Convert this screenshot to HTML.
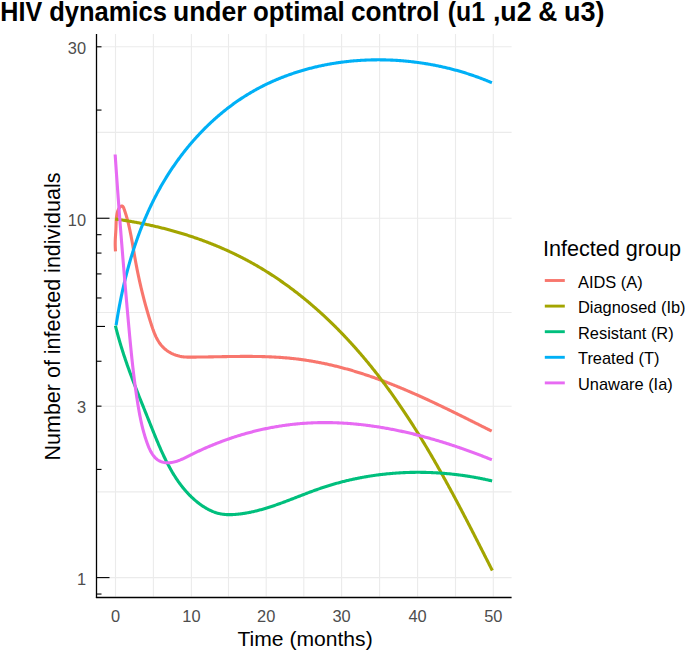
<!DOCTYPE html>
<html><head><meta charset="utf-8"><style>
html,body{margin:0;padding:0;background:#fff;}
svg{display:block;}
text{font-family:"Liberation Sans",sans-serif;}
.g{stroke:#EBEBEB;stroke-width:1.1;}
.t{stroke:#000;stroke-width:1.1;}
.c{fill:none;stroke-width:3.1;stroke-linejoin:round;}
.ax{font-size:16.4px;fill:#4D4D4D;}
.lt{font-size:16.4px;fill:#000;}
</style></head><body>
<svg width="685" height="652" viewBox="0 0 685 652">
<rect width="685" height="652" fill="#fff"/>
<line x1="115.50" y1="34.00" x2="115.50" y2="596.50" class="g"/>
<line x1="153.40" y1="34.00" x2="153.40" y2="596.50" class="g"/>
<line x1="191.40" y1="34.00" x2="191.40" y2="596.50" class="g"/>
<line x1="228.50" y1="34.00" x2="228.50" y2="596.50" class="g"/>
<line x1="266.20" y1="34.00" x2="266.20" y2="596.50" class="g"/>
<line x1="303.80" y1="34.00" x2="303.80" y2="596.50" class="g"/>
<line x1="341.60" y1="34.00" x2="341.60" y2="596.50" class="g"/>
<line x1="379.60" y1="34.00" x2="379.60" y2="596.50" class="g"/>
<line x1="417.60" y1="34.00" x2="417.60" y2="596.50" class="g"/>
<line x1="455.50" y1="34.00" x2="455.50" y2="596.50" class="g"/>
<line x1="493.30" y1="34.00" x2="493.30" y2="596.50" class="g"/>
<line x1="96.50" y1="46.80" x2="511.60" y2="46.80" class="g"/>
<line x1="96.50" y1="132.40" x2="511.60" y2="132.40" class="g"/>
<line x1="96.50" y1="218.20" x2="511.60" y2="218.20" class="g"/>
<line x1="96.50" y1="312.50" x2="511.60" y2="312.50" class="g"/>
<line x1="96.50" y1="406.20" x2="511.60" y2="406.20" class="g"/>
<line x1="96.50" y1="491.90" x2="511.60" y2="491.90" class="g"/>
<line x1="96.50" y1="577.60" x2="511.60" y2="577.60" class="g"/>
<path d="M115.50,251.42 L115.42,250.27 L115.36,249.17 L115.31,248.11 L115.27,247.09 L115.24,246.10 L115.22,245.15 L115.21,244.23 L115.21,243.34 L115.22,242.48 L115.23,241.63 L115.26,240.80 L115.28,239.99 L115.32,239.19 L115.36,238.40 L115.40,237.62 L115.45,236.84 L115.50,236.06 L115.55,235.28 L115.60,234.49 L115.65,233.70 L115.70,232.89 L115.75,232.06 L115.80,231.22 L115.85,230.36 L115.90,229.47 L115.94,228.56 L115.97,227.62 L116.00,226.64 L116.03,225.64 L116.07,224.62 L116.10,223.58 L116.14,222.53 L116.19,221.46 L116.24,220.40 L116.32,219.33 L116.40,218.27 L116.51,217.22 L116.63,216.19 L116.78,215.17 L116.95,214.17 L117.15,213.21 L117.38,212.27 L117.65,211.37 L117.95,210.52 L118.28,209.71 L118.66,208.95 L119.08,208.24 L119.54,207.59 L120.04,207.03 L120.55,206.57 L121.07,206.24 L121.59,206.05 L122.08,206.03 L122.54,206.20 L122.95,206.59 L123.32,207.16 L123.65,207.87 L123.96,208.67 L124.26,209.50 L124.55,210.34 L124.84,211.18 L125.12,212.02 L125.39,212.87 L125.66,213.71 L125.92,214.57 L126.18,215.42 L126.43,216.28 L126.68,217.14 L126.93,218.00 L127.16,218.86 L127.40,219.73 L127.63,220.60 L127.85,221.47 L128.08,222.34 L128.29,223.22 L128.51,224.10 L128.72,224.98 L128.92,225.86 L129.13,226.74 L129.32,227.63 L129.52,228.51 L129.71,229.40 L129.90,230.29 L130.09,231.18 L130.27,232.07 L130.46,232.96 L130.63,233.86 L130.81,234.75 L130.99,235.65 L131.16,236.55 L131.33,237.45 L131.50,238.35 L131.66,239.25 L131.83,240.15 L131.99,241.05 L132.16,241.95 L132.32,242.85 L132.48,243.76 L132.64,244.66 L132.79,245.56 L132.95,246.47 L133.11,247.37 L133.26,248.28 L133.42,249.18 L133.58,250.08 L133.73,250.99 L133.89,251.89 L134.05,252.79 L134.20,253.70 L134.36,254.60 L134.52,255.50 L134.67,256.40 L134.83,257.30 L134.99,258.20 L135.15,259.10 L135.32,260.00 L135.48,260.90 L135.65,261.79 L135.81,262.69 L135.98,263.58 L136.15,264.48 L136.32,265.37 L136.49,266.26 L136.66,267.15 L136.84,268.04 L137.01,268.93 L137.19,269.82 L137.37,270.71 L137.55,271.60 L137.73,272.48 L137.91,273.37 L138.09,274.25 L138.28,275.14 L138.46,276.02 L138.65,276.91 L138.84,277.79 L139.03,278.67 L139.23,279.55 L139.42,280.44 L139.61,281.32 L139.81,282.20 L140.01,283.08 L140.21,283.95 L140.41,284.83 L140.61,285.71 L140.82,286.59 L141.02,287.47 L141.23,288.34 L141.44,289.22 L141.65,290.09 L141.86,290.97 L142.08,291.84 L142.29,292.72 L142.51,293.59 L142.73,294.47 L142.95,295.34 L143.17,296.21 L143.39,297.09 L143.62,297.96 L143.84,298.83 L144.07,299.71 L144.30,300.58 L144.53,301.45 L144.77,302.32 L145.00,303.19 L145.24,304.06 L145.48,304.94 L145.72,305.81 L145.96,306.68 L146.21,307.55 L146.45,308.42 L146.70,309.29 L146.95,310.16 L147.20,311.03 L147.45,311.90 L147.71,312.77 L147.96,313.64 L148.22,314.51 L148.48,315.38 L148.74,316.25 L149.00,317.12 L149.27,317.99 L149.54,318.86 L149.81,319.74 L150.08,320.61 L150.35,321.48 L150.63,322.35 L150.90,323.22 L151.18,324.09 L151.46,324.96 L151.75,325.83 L152.03,326.70 L152.33,327.57 L152.62,328.44 L152.93,329.30 L153.23,330.16 L153.55,331.01 L153.87,331.86 L154.21,332.71 L154.55,333.55 L154.90,334.38 L155.26,335.21 L155.63,336.03 L156.01,336.85 L156.41,337.65 L156.82,338.45 L157.24,339.23 L157.67,340.01 L158.12,340.78 L158.59,341.53 L159.07,342.28 L159.57,343.01 L160.09,343.73 L160.63,344.43 L161.18,345.13 L161.75,345.81 L162.35,346.47 L162.96,347.12 L163.60,347.75 L164.26,348.37 L164.94,348.97 L165.64,349.55 L166.37,350.12 L167.11,350.67 L167.88,351.19 L168.66,351.70 L169.45,352.19 L170.26,352.66 L171.09,353.11 L171.93,353.53 L172.78,353.93 L173.64,354.32 L174.51,354.67 L175.39,355.01 L176.27,355.32 L177.16,355.60 L178.05,355.86 L178.95,356.09 L179.85,356.30 L180.75,356.48 L181.65,356.63 L182.56,356.76 L183.46,356.86 L184.35,356.94 L185.25,357.00 L186.15,357.05 L187.05,357.08 L187.95,357.10 L188.85,357.11 L189.75,357.12 L190.65,357.12 L191.55,357.11 L192.45,357.11 L193.35,357.10 L194.25,357.10 L195.15,357.09 L196.05,357.08 L196.95,357.07 L197.85,357.07 L198.75,357.06 L199.65,357.05 L200.55,357.03 L201.46,357.02 L202.36,357.01 L203.26,357.00 L204.16,356.98 L205.06,356.97 L205.97,356.96 L206.87,356.94 L207.77,356.93 L208.68,356.91 L209.58,356.90 L210.48,356.88 L211.39,356.86 L212.29,356.85 L213.20,356.83 L214.10,356.82 L215.00,356.80 L215.91,356.78 L216.81,356.77 L217.72,356.75 L218.62,356.73 L219.53,356.72 L220.43,356.70 L221.34,356.68 L222.25,356.67 L223.15,356.65 L224.06,356.63 L224.96,356.62 L225.87,356.60 L226.77,356.59 L227.68,356.57 L228.59,356.56 L229.49,356.54 L230.40,356.53 L231.31,356.52 L232.21,356.51 L233.12,356.49 L234.02,356.48 L234.93,356.47 L235.84,356.46 L236.74,356.45 L237.65,356.44 L238.56,356.43 L239.46,356.43 L240.37,356.42 L241.28,356.42 L242.19,356.41 L243.09,356.41 L244.00,356.40 L244.91,356.40 L245.81,356.40 L246.72,356.40 L247.63,356.40 L248.53,356.40 L249.44,356.41 L250.35,356.41 L251.25,356.42 L252.16,356.42 L253.07,356.43 L253.97,356.44 L254.88,356.45 L255.79,356.46 L256.69,356.48 L257.60,356.49 L258.50,356.51 L259.41,356.53 L260.32,356.55 L261.22,356.57 L262.13,356.59 L263.04,356.61 L263.94,356.64 L264.85,356.67 L265.75,356.70 L266.66,356.73 L267.56,356.76 L268.47,356.79 L269.37,356.83 L270.28,356.87 L271.18,356.91 L272.09,356.95 L272.99,356.99 L273.90,357.04 L274.80,357.09 L275.71,357.14 L276.61,357.19 L277.51,357.25 L278.42,357.30 L279.32,357.36 L280.23,357.42 L281.13,357.48 L282.03,357.55 L282.93,357.62 L283.84,357.69 L284.74,357.76 L285.64,357.84 L286.54,357.91 L287.45,357.99 L288.35,358.07 L289.25,358.16 L290.15,358.25 L291.05,358.34 L291.95,358.43 L292.85,358.53 L293.75,358.62 L294.65,358.72 L295.55,358.83 L296.45,358.93 L297.35,359.04 L298.25,359.16 L299.15,359.27 L300.05,359.39 L300.95,359.51 L301.85,359.63 L302.74,359.75 L303.64,359.88 L304.54,360.01 L305.43,360.15 L306.33,360.28 L307.23,360.42 L308.12,360.56 L309.02,360.70 L309.91,360.85 L310.81,361.00 L311.70,361.15 L312.60,361.30 L313.49,361.46 L314.38,361.62 L315.27,361.78 L316.17,361.94 L317.06,362.11 L317.95,362.27 L318.84,362.44 L319.73,362.62 L320.62,362.79 L321.51,362.97 L322.40,363.15 L323.29,363.33 L324.18,363.52 L325.07,363.71 L325.95,363.89 L326.84,364.09 L327.73,364.28 L328.61,364.48 L329.50,364.68 L330.38,364.88 L331.27,365.08 L332.15,365.29 L333.03,365.49 L333.92,365.70 L334.80,365.92 L335.68,366.13 L336.56,366.35 L337.44,366.57 L338.32,366.79 L339.20,367.01 L340.08,367.24 L340.96,367.47 L341.84,367.70 L342.71,367.93 L343.59,368.16 L344.46,368.40 L345.34,368.64 L346.21,368.88 L347.09,369.12 L347.96,369.36 L348.83,369.61 L349.71,369.86 L350.58,370.11 L351.45,370.36 L352.32,370.61 L353.19,370.87 L354.05,371.13 L354.92,371.39 L355.79,371.65 L356.66,371.92 L357.52,372.18 L358.39,372.45 L359.25,372.72 L360.11,372.99 L360.98,373.26 L361.84,373.54 L362.70,373.82 L363.56,374.10 L364.42,374.38 L365.28,374.66 L366.14,374.94 L367.00,375.23 L367.86,375.52 L368.72,375.81 L369.57,376.10 L370.43,376.39 L371.28,376.69 L372.14,376.99 L372.99,377.28 L373.85,377.58 L374.70,377.89 L375.55,378.19 L376.40,378.49 L377.26,378.80 L378.11,379.11 L378.96,379.42 L379.81,379.73 L380.65,380.04 L381.50,380.36 L382.35,380.67 L383.20,380.99 L384.05,381.31 L384.89,381.63 L385.74,381.95 L386.58,382.27 L387.43,382.60 L388.27,382.93 L389.11,383.25 L389.96,383.58 L390.80,383.91 L391.64,384.24 L392.48,384.58 L393.33,384.91 L394.17,385.25 L395.01,385.59 L395.85,385.92 L396.68,386.26 L397.52,386.61 L398.36,386.95 L399.20,387.29 L400.04,387.64 L400.87,387.98 L401.71,388.33 L402.54,388.68 L403.38,389.03 L404.21,389.38 L405.05,389.73 L405.88,390.09 L406.72,390.44 L407.55,390.80 L408.38,391.15 L409.21,391.51 L410.04,391.87 L410.88,392.23 L411.71,392.59 L412.54,392.96 L413.37,393.32 L414.20,393.68 L415.02,394.05 L415.85,394.42 L416.68,394.78 L417.51,395.15 L418.34,395.52 L419.16,395.89 L419.99,396.26 L420.82,396.64 L421.64,397.01 L422.47,397.38 L423.29,397.76 L424.12,398.13 L424.94,398.51 L425.77,398.89 L426.59,399.27 L427.41,399.65 L428.24,400.03 L429.06,400.41 L429.88,400.79 L430.70,401.17 L431.53,401.55 L432.35,401.94 L433.17,402.32 L433.99,402.71 L434.81,403.09 L435.63,403.48 L436.45,403.87 L437.27,404.26 L438.09,404.65 L438.91,405.04 L439.73,405.43 L440.54,405.82 L441.36,406.21 L442.18,406.60 L443.00,406.99 L443.81,407.39 L444.63,407.78 L445.45,408.17 L446.26,408.57 L447.08,408.96 L447.90,409.36 L448.71,409.76 L449.53,410.15 L450.34,410.55 L451.16,410.95 L451.97,411.35 L452.79,411.74 L453.60,412.14 L454.41,412.54 L455.23,412.94 L456.04,413.34 L456.85,413.74 L457.67,414.14 L458.48,414.54 L459.29,414.95 L460.10,415.35 L460.92,415.75 L461.73,416.15 L462.54,416.55 L463.35,416.96 L464.16,417.36 L464.97,417.76 L465.79,418.17 L466.60,418.57 L467.41,418.97 L468.22,419.38 L469.03,419.78 L469.84,420.19 L470.65,420.59 L471.46,420.99 L472.27,421.40 L473.08,421.80 L473.89,422.21 L474.70,422.61 L475.51,423.02 L476.31,423.42 L477.12,423.83 L477.93,424.23 L478.74,424.64 L479.55,425.04 L480.36,425.45 L481.17,425.85 L481.98,426.26 L482.78,426.66 L483.59,427.07 L484.40,427.47 L485.21,427.88 L486.02,428.28 L486.82,428.69 L487.63,429.09 L488.44,429.50 L489.25,429.90 L490.05,430.30 L490.86,430.71 L491.67,431.11" stroke="#F8766D" class="c"/>
<path d="M115.24,219.02 L116.14,219.15 L117.04,219.27 L117.94,219.40 L118.84,219.53 L119.74,219.66 L120.64,219.80 L121.54,219.93 L122.44,220.07 L123.34,220.21 L124.24,220.35 L125.13,220.49 L126.03,220.64 L126.93,220.78 L127.83,220.93 L128.73,221.08 L129.62,221.23 L130.52,221.39 L131.42,221.54 L132.31,221.70 L133.21,221.86 L134.11,222.02 L135.00,222.18 L135.90,222.34 L136.79,222.51 L137.69,222.68 L138.58,222.85 L139.47,223.02 L140.37,223.19 L141.26,223.37 L142.15,223.55 L143.05,223.73 L143.94,223.91 L144.83,224.09 L145.72,224.27 L146.61,224.46 L147.50,224.65 L148.39,224.84 L149.28,225.03 L150.17,225.23 L151.06,225.42 L151.95,225.62 L152.84,225.82 L153.72,226.02 L154.61,226.23 L155.50,226.43 L156.38,226.64 L157.27,226.85 L158.15,227.06 L159.04,227.27 L159.92,227.49 L160.80,227.70 L161.69,227.92 L162.57,228.14 L163.45,228.36 L164.33,228.59 L165.21,228.82 L166.09,229.04 L166.97,229.27 L167.85,229.51 L168.73,229.74 L169.61,229.98 L170.49,230.21 L171.36,230.45 L172.24,230.69 L173.12,230.94 L173.99,231.18 L174.86,231.43 L175.74,231.68 L176.61,231.93 L177.48,232.19 L178.36,232.44 L179.23,232.70 L180.10,232.96 L180.97,233.22 L181.84,233.48 L182.70,233.75 L183.57,234.01 L184.44,234.28 L185.30,234.55 L186.17,234.83 L187.03,235.10 L187.90,235.38 L188.76,235.66 L189.62,235.94 L190.49,236.22 L191.35,236.50 L192.21,236.79 L193.07,237.08 L193.93,237.37 L194.78,237.66 L195.64,237.96 L196.50,238.26 L197.35,238.55 L198.21,238.85 L199.06,239.16 L199.91,239.46 L200.77,239.77 L201.62,240.08 L202.47,240.39 L203.32,240.70 L204.17,241.02 L205.01,241.33 L205.86,241.65 L206.71,241.97 L207.55,242.29 L208.40,242.62 L209.24,242.95 L210.08,243.28 L210.92,243.61 L211.76,243.94 L212.60,244.27 L213.44,244.61 L214.28,244.95 L215.12,245.29 L215.95,245.64 L216.79,245.98 L217.62,246.33 L218.45,246.68 L219.29,247.03 L220.12,247.38 L220.95,247.74 L221.78,248.10 L222.60,248.45 L223.43,248.82 L224.26,249.18 L225.08,249.55 L225.90,249.91 L226.73,250.28 L227.55,250.66 L228.37,251.03 L229.19,251.41 L230.01,251.79 L230.82,252.17 L231.64,252.55 L232.45,252.93 L233.27,253.32 L234.08,253.71 L234.89,254.10 L235.70,254.49 L236.51,254.89 L237.32,255.29 L238.13,255.69 L238.93,256.09 L239.74,256.49 L240.54,256.90 L241.34,257.30 L242.14,257.71 L242.94,258.13 L243.74,258.54 L244.54,258.96 L245.34,259.38 L246.13,259.80 L246.92,260.22 L247.72,260.64 L248.51,261.07 L249.30,261.50 L250.09,261.93 L250.87,262.37 L251.66,262.80 L252.45,263.24 L253.23,263.68 L254.01,264.12 L254.79,264.56 L255.57,265.01 L256.35,265.46 L257.13,265.91 L257.91,266.36 L258.68,266.82 L259.45,267.27 L260.23,267.73 L261.00,268.19 L261.77,268.65 L262.54,269.12 L263.30,269.58 L264.07,270.05 L264.84,270.52 L265.60,270.99 L266.36,271.47 L267.12,271.95 L267.88,272.42 L268.64,272.90 L269.40,273.39 L270.16,273.87 L270.91,274.36 L271.67,274.84 L272.42,275.33 L273.17,275.83 L273.92,276.32 L274.67,276.82 L275.42,277.31 L276.16,277.81 L276.91,278.31 L277.65,278.82 L278.39,279.32 L279.14,279.83 L279.88,280.34 L280.62,280.85 L281.35,281.36 L282.09,281.88 L282.82,282.39 L283.56,282.91 L284.29,283.43 L285.02,283.95 L285.75,284.47 L286.48,285.00 L287.21,285.53 L287.94,286.06 L288.66,286.59 L289.39,287.12 L290.11,287.65 L290.83,288.19 L291.55,288.73 L292.27,289.26 L292.99,289.81 L293.70,290.35 L294.42,290.89 L295.13,291.44 L295.85,291.99 L296.56,292.54 L297.27,293.09 L297.98,293.64 L298.69,294.20 L299.39,294.75 L300.10,295.31 L300.80,295.87 L301.51,296.43 L302.21,297.00 L302.91,297.56 L303.61,298.13 L304.31,298.69 L305.00,299.26 L305.70,299.84 L306.39,300.41 L307.09,300.98 L307.78,301.56 L308.47,302.14 L309.16,302.72 L309.85,303.30 L310.53,303.88 L311.22,304.46 L311.90,305.05 L312.59,305.64 L313.27,306.22 L313.95,306.81 L314.63,307.41 L315.31,308.00 L315.98,308.59 L316.66,309.19 L317.33,309.79 L318.01,310.39 L318.68,310.99 L319.35,311.59 L320.02,312.19 L320.69,312.80 L321.36,313.41 L322.02,314.01 L322.69,314.62 L323.35,315.23 L324.01,315.85 L324.67,316.46 L325.33,317.08 L325.99,317.69 L326.65,318.31 L327.30,318.93 L327.96,319.55 L328.61,320.17 L329.26,320.80 L329.92,321.42 L330.57,322.05 L331.21,322.68 L331.86,323.30 L332.51,323.94 L333.15,324.57 L333.80,325.20 L334.44,325.83 L335.08,326.47 L335.72,327.11 L336.36,327.75 L337.00,328.39 L337.63,329.03 L338.27,329.67 L338.90,330.31 L339.53,330.96 L340.17,331.60 L340.80,332.25 L341.42,332.90 L342.05,333.55 L342.68,334.20 L343.30,334.85 L343.93,335.51 L344.55,336.16 L345.17,336.82 L345.79,337.48 L346.41,338.13 L347.03,338.79 L347.65,339.45 L348.26,340.12 L348.87,340.78 L349.49,341.44 L350.10,342.11 L350.71,342.78 L351.32,343.44 L351.93,344.11 L352.53,344.78 L353.14,345.45 L353.74,346.13 L354.35,346.80 L354.95,347.48 L355.55,348.15 L356.15,348.83 L356.75,349.51 L357.34,350.18 L357.94,350.86 L358.53,351.55 L359.13,352.23 L359.72,352.91 L360.31,353.60 L360.90,354.28 L361.49,354.97 L362.07,355.65 L362.66,356.34 L363.24,357.03 L363.83,357.72 L364.41,358.41 L364.99,359.11 L365.57,359.80 L366.15,360.50 L366.73,361.19 L367.30,361.89 L367.88,362.58 L368.45,363.28 L369.02,363.98 L369.59,364.68 L370.16,365.38 L370.73,366.09 L371.30,366.79 L371.87,367.49 L372.43,368.20 L373.00,368.90 L373.56,369.61 L374.12,370.32 L374.68,371.03 L375.24,371.74 L375.80,372.45 L376.35,373.16 L376.91,373.87 L377.47,374.58 L378.02,375.30 L378.57,376.01 L379.12,376.73 L379.67,377.44 L380.22,378.16 L380.77,378.88 L381.32,379.60 L381.86,380.32 L382.41,381.04 L382.95,381.76 L383.49,382.48 L384.03,383.21 L384.57,383.93 L385.11,384.66 L385.65,385.38 L386.19,386.11 L386.72,386.84 L387.26,387.57 L387.79,388.30 L388.32,389.03 L388.86,389.76 L389.39,390.49 L389.92,391.22 L390.44,391.95 L390.97,392.69 L391.50,393.42 L392.02,394.16 L392.55,394.89 L393.07,395.63 L393.59,396.37 L394.12,397.11 L394.64,397.85 L395.15,398.59 L395.67,399.33 L396.19,400.07 L396.71,400.81 L397.22,401.55 L397.74,402.30 L398.25,403.04 L398.76,403.79 L399.27,404.53 L399.78,405.28 L400.29,406.03 L400.80,406.77 L401.31,407.52 L401.82,408.27 L402.32,409.02 L402.83,409.77 L403.33,410.52 L403.83,411.27 L404.33,412.03 L404.84,412.78 L405.34,413.53 L405.83,414.29 L406.33,415.04 L406.83,415.80 L407.33,416.56 L407.82,417.31 L408.32,418.07 L408.81,418.83 L409.30,419.59 L409.80,420.35 L410.29,421.11 L410.78,421.87 L411.27,422.63 L411.75,423.39 L412.24,424.15 L412.73,424.92 L413.22,425.68 L413.70,426.45 L414.18,427.21 L414.67,427.98 L415.15,428.74 L415.63,429.51 L416.11,430.28 L416.59,431.04 L417.07,431.81 L417.55,432.58 L418.03,433.35 L418.51,434.12 L418.98,434.89 L419.46,435.66 L419.93,436.43 L420.41,437.20 L420.88,437.98 L421.35,438.75 L421.82,439.52 L422.29,440.30 L422.76,441.07 L423.23,441.84 L423.70,442.62 L424.17,443.40 L424.64,444.17 L425.10,444.95 L425.57,445.73 L426.03,446.50 L426.50,447.28 L426.96,448.06 L427.42,448.84 L427.88,449.62 L428.34,450.40 L428.80,451.18 L429.26,451.96 L429.72,452.74 L430.18,453.52 L430.64,454.31 L431.10,455.09 L431.55,455.87 L432.01,456.65 L432.46,457.44 L432.92,458.22 L433.37,459.01 L433.82,459.79 L434.28,460.58 L434.73,461.36 L435.18,462.15 L435.63,462.93 L436.08,463.72 L436.53,464.51 L436.98,465.29 L437.42,466.08 L437.87,466.87 L438.32,467.66 L438.76,468.45 L439.21,469.24 L439.65,470.03 L440.10,470.82 L440.54,471.61 L440.98,472.40 L441.43,473.19 L441.87,473.98 L442.31,474.77 L442.75,475.56 L443.19,476.35 L443.63,477.14 L444.07,477.94 L444.51,478.73 L444.95,479.52 L445.38,480.32 L445.82,481.11 L446.26,481.90 L446.69,482.70 L447.13,483.49 L447.56,484.29 L448.00,485.08 L448.43,485.87 L448.86,486.67 L449.29,487.47 L449.73,488.26 L450.16,489.06 L450.59,489.85 L451.02,490.65 L451.45,491.45 L451.88,492.24 L452.31,493.04 L452.74,493.84 L453.17,494.63 L453.59,495.43 L454.02,496.23 L454.45,497.03 L454.87,497.82 L455.30,498.62 L455.73,499.42 L456.15,500.22 L456.58,501.02 L457.00,501.82 L457.42,502.62 L457.85,503.41 L458.27,504.21 L458.69,505.01 L459.11,505.81 L459.54,506.61 L459.96,507.41 L460.38,508.21 L460.80,509.01 L461.22,509.81 L461.64,510.61 L462.06,511.41 L462.48,512.21 L462.90,513.01 L463.31,513.81 L463.73,514.61 L464.15,515.41 L464.57,516.21 L464.98,517.01 L465.40,517.81 L465.82,518.61 L466.23,519.42 L466.65,520.22 L467.06,521.02 L467.48,521.82 L467.89,522.62 L468.31,523.42 L468.72,524.22 L469.13,525.02 L469.55,525.82 L469.96,526.62 L470.37,527.42 L470.79,528.23 L471.20,529.03 L471.61,529.83 L472.02,530.63 L472.43,531.43 L472.84,532.23 L473.25,533.03 L473.66,533.83 L474.08,534.63 L474.49,535.43 L474.89,536.23 L475.30,537.04 L475.71,537.84 L476.12,538.64 L476.53,539.44 L476.94,540.24 L477.35,541.04 L477.76,541.84 L478.17,542.64 L478.57,543.44 L478.98,544.24 L479.39,545.04 L479.80,545.84 L480.20,546.64 L480.61,547.44 L481.02,548.24 L481.42,549.04 L481.83,549.84 L482.24,550.63 L482.64,551.43 L483.05,552.23 L483.45,553.03 L483.86,553.83 L484.26,554.63 L484.67,555.43 L485.07,556.22 L485.48,557.02 L485.88,557.82 L486.29,558.62 L486.69,559.41 L487.10,560.21 L487.50,561.01 L487.91,561.81 L488.31,562.60 L488.72,563.40 L489.12,564.19 L489.52,564.99 L489.93,565.79 L490.33,566.58 L490.73,567.38 L491.14,568.17 L491.54,568.97 L491.95,569.76 L492.35,570.56" stroke="#A3A500" class="c"/>
<path d="M115.39,325.63 L115.60,326.49 L115.82,327.34 L116.03,328.19 L116.25,329.03 L116.47,329.88 L116.69,330.72 L116.91,331.56 L117.13,332.40 L117.36,333.24 L117.58,334.07 L117.81,334.90 L118.04,335.74 L118.27,336.56 L118.50,337.39 L118.73,338.22 L118.97,339.04 L119.20,339.86 L119.44,340.69 L119.68,341.50 L119.92,342.32 L120.16,343.14 L120.40,343.95 L120.65,344.77 L120.89,345.58 L121.14,346.39 L121.39,347.19 L121.64,348.00 L121.89,348.81 L122.14,349.61 L122.39,350.41 L122.65,351.21 L122.90,352.01 L123.16,352.81 L123.41,353.61 L123.67,354.41 L123.93,355.20 L124.19,355.99 L124.46,356.79 L124.72,357.58 L124.99,358.37 L125.25,359.16 L125.52,359.95 L125.79,360.73 L126.05,361.52 L126.32,362.30 L126.59,363.09 L126.87,363.87 L127.14,364.65 L127.41,365.43 L127.69,366.21 L127.96,366.99 L128.24,367.77 L128.52,368.55 L128.80,369.33 L129.08,370.10 L129.36,370.88 L129.64,371.65 L129.92,372.43 L130.21,373.20 L130.49,373.97 L130.78,374.75 L131.06,375.52 L131.35,376.29 L131.64,377.06 L131.92,377.83 L132.21,378.60 L132.50,379.37 L132.79,380.14 L133.09,380.90 L133.38,381.67 L133.67,382.44 L133.96,383.21 L134.26,383.97 L134.55,384.74 L134.85,385.51 L135.15,386.27 L135.44,387.04 L135.74,387.80 L136.04,388.57 L136.34,389.33 L136.64,390.10 L136.94,390.86 L137.24,391.63 L137.54,392.39 L137.84,393.16 L138.14,393.92 L138.45,394.69 L138.75,395.45 L139.05,396.22 L139.36,396.98 L139.66,397.75 L139.97,398.52 L140.28,399.28 L140.58,400.05 L140.89,400.81 L141.20,401.58 L141.50,402.35 L141.81,403.11 L142.12,403.88 L142.43,404.65 L142.74,405.42 L143.05,406.19 L143.36,406.95 L143.67,407.72 L143.98,408.49 L144.29,409.26 L144.60,410.04 L144.91,410.81 L145.23,411.58 L145.54,412.35 L145.85,413.13 L146.16,413.90 L146.48,414.67 L146.79,415.45 L147.10,416.23 L147.42,417.00 L147.73,417.78 L148.04,418.56 L148.36,419.34 L148.67,420.12 L148.98,420.90 L149.30,421.68 L149.61,422.46 L149.93,423.25 L150.24,424.03 L150.56,424.82 L150.87,425.61 L151.19,426.39 L151.50,427.18 L151.82,427.97 L152.14,428.76 L152.45,429.55 L152.77,430.34 L153.09,431.13 L153.41,431.92 L153.73,432.71 L154.05,433.50 L154.37,434.29 L154.69,435.08 L155.01,435.87 L155.34,436.66 L155.66,437.46 L155.99,438.25 L156.31,439.04 L156.64,439.83 L156.97,440.62 L157.30,441.41 L157.63,442.20 L157.97,442.98 L158.30,443.77 L158.64,444.56 L158.98,445.35 L159.32,446.13 L159.66,446.92 L160.00,447.70 L160.34,448.48 L160.69,449.27 L161.04,450.05 L161.39,450.83 L161.74,451.61 L162.09,452.38 L162.45,453.16 L162.81,453.93 L163.17,454.71 L163.53,455.48 L163.89,456.25 L164.26,457.02 L164.63,457.79 L165.00,458.55 L165.38,459.31 L165.75,460.08 L166.13,460.84 L166.51,461.59 L166.90,462.35 L167.29,463.10 L167.68,463.85 L168.07,464.60 L168.46,465.35 L168.86,466.10 L169.26,466.84 L169.67,467.58 L170.08,468.31 L170.49,469.05 L170.90,469.78 L171.32,470.51 L171.74,471.24 L172.16,471.96 L172.59,472.68 L173.02,473.40 L173.45,474.11 L173.89,474.83 L174.33,475.53 L174.78,476.24 L175.23,476.94 L175.68,477.64 L176.14,478.34 L176.60,479.03 L177.06,479.72 L177.53,480.40 L178.00,481.08 L178.47,481.76 L178.95,482.44 L179.44,483.11 L179.93,483.77 L180.42,484.44 L180.92,485.10 L181.42,485.75 L181.92,486.40 L182.43,487.05 L182.95,487.69 L183.47,488.33 L183.99,488.96 L184.52,489.59 L185.05,490.22 L185.59,490.84 L186.14,491.45 L186.68,492.06 L187.24,492.67 L187.79,493.27 L188.36,493.87 L188.93,494.46 L189.50,495.05 L190.08,495.63 L190.66,496.21 L191.25,496.78 L191.84,497.35 L192.44,497.91 L193.05,498.46 L193.66,499.02 L194.28,499.56 L194.90,500.10 L195.52,500.64 L196.16,501.17 L196.80,501.69 L197.44,502.21 L198.09,502.72 L198.75,503.22 L199.41,503.73 L200.08,504.22 L200.75,504.71 L201.43,505.19 L202.12,505.66 L202.81,506.13 L203.51,506.58 L204.21,507.03 L204.92,507.47 L205.63,507.90 L206.35,508.32 L207.07,508.73 L207.80,509.13 L208.53,509.52 L209.27,509.90 L210.02,510.26 L210.77,510.61 L211.52,510.96 L212.28,511.28 L213.04,511.60 L213.81,511.90 L214.58,512.18 L215.35,512.46 L216.13,512.71 L216.92,512.96 L217.71,513.18 L218.50,513.39 L219.29,513.59 L220.10,513.76 L220.90,513.92 L221.71,514.06 L222.52,514.19 L223.33,514.30 L224.15,514.39 L224.97,514.47 L225.80,514.54 L226.62,514.59 L227.45,514.62 L228.28,514.65 L229.11,514.66 L229.94,514.66 L230.77,514.65 L231.61,514.63 L232.44,514.60 L233.27,514.56 L234.11,514.51 L234.94,514.45 L235.78,514.38 L236.61,514.31 L237.44,514.23 L238.28,514.14 L239.11,514.05 L239.94,513.95 L240.76,513.85 L241.59,513.74 L242.42,513.63 L243.24,513.51 L244.06,513.38 L244.89,513.25 L245.71,513.11 L246.53,512.97 L247.35,512.83 L248.16,512.68 L248.98,512.52 L249.80,512.36 L250.61,512.19 L251.42,512.02 L252.24,511.85 L253.05,511.67 L253.86,511.48 L254.67,511.30 L255.48,511.10 L256.29,510.91 L257.10,510.71 L257.90,510.50 L258.71,510.29 L259.51,510.08 L260.32,509.86 L261.12,509.64 L261.92,509.42 L262.73,509.19 L263.53,508.96 L264.33,508.73 L265.13,508.49 L265.93,508.25 L266.73,508.01 L267.53,507.76 L268.32,507.51 L269.12,507.26 L269.92,507.00 L270.71,506.74 L271.51,506.48 L272.30,506.22 L273.10,505.95 L273.89,505.68 L274.68,505.41 L275.48,505.14 L276.27,504.86 L277.06,504.58 L277.85,504.30 L278.64,504.02 L279.44,503.74 L280.23,503.45 L281.02,503.16 L281.81,502.88 L282.60,502.59 L283.39,502.29 L284.18,502.00 L284.96,501.70 L285.75,501.41 L286.54,501.11 L287.33,500.81 L288.12,500.51 L288.91,500.21 L289.70,499.91 L290.48,499.61 L291.27,499.31 L292.06,499.00 L292.85,498.70 L293.63,498.40 L294.42,498.09 L295.21,497.79 L296.00,497.48 L296.79,497.17 L297.57,496.87 L298.36,496.56 L299.15,496.26 L299.94,495.95 L300.73,495.65 L301.51,495.34 L302.30,495.04 L303.09,494.73 L303.88,494.43 L304.67,494.13 L305.46,493.82 L306.25,493.52 L307.04,493.22 L307.83,492.92 L308.62,492.62 L309.41,492.33 L310.20,492.03 L310.99,491.74 L311.78,491.44 L312.58,491.15 L313.37,490.86 L314.16,490.57 L314.95,490.28 L315.75,490.00 L316.54,489.71 L317.34,489.43 L318.13,489.15 L318.93,488.87 L319.73,488.60 L320.52,488.32 L321.32,488.05 L322.12,487.78 L322.92,487.52 L323.72,487.25 L324.52,486.99 L325.32,486.73 L326.12,486.47 L326.92,486.22 L327.72,485.97 L328.53,485.72 L329.33,485.47 L330.13,485.22 L330.94,484.98 L331.74,484.74 L332.55,484.50 L333.35,484.27 L334.16,484.03 L334.97,483.80 L335.78,483.57 L336.58,483.35 L337.39,483.12 L338.20,482.90 L339.01,482.68 L339.82,482.46 L340.63,482.25 L341.44,482.04 L342.26,481.83 L343.07,481.62 L343.88,481.41 L344.69,481.21 L345.51,481.01 L346.32,480.81 L347.14,480.61 L347.95,480.42 L348.77,480.23 L349.58,480.04 L350.40,479.85 L351.22,479.67 L352.03,479.49 L352.85,479.31 L353.67,479.13 L354.49,478.95 L355.31,478.78 L356.13,478.61 L356.94,478.44 L357.76,478.28 L358.59,478.11 L359.41,477.95 L360.23,477.79 L361.05,477.63 L361.87,477.48 L362.69,477.33 L363.51,477.18 L364.34,477.03 L365.16,476.89 L365.98,476.74 L366.81,476.60 L367.63,476.46 L368.46,476.33 L369.28,476.19 L370.11,476.06 L370.93,475.93 L371.76,475.81 L372.58,475.68 L373.41,475.56 L374.24,475.44 L375.06,475.32 L375.89,475.21 L376.72,475.09 L377.55,474.98 L378.37,474.87 L379.20,474.77 L380.03,474.66 L380.86,474.56 L381.69,474.46 L382.52,474.37 L383.35,474.27 L384.18,474.18 L385.01,474.09 L385.84,474.00 L386.67,473.91 L387.50,473.83 L388.33,473.75 L389.16,473.67 L389.99,473.59 L390.82,473.52 L391.65,473.45 L392.49,473.38 L393.32,473.31 L394.15,473.24 L394.98,473.18 L395.82,473.12 L396.65,473.06 L397.48,473.00 L398.31,472.95 L399.15,472.90 L399.98,472.85 L400.81,472.80 L401.65,472.75 L402.48,472.71 L403.31,472.67 L404.15,472.63 L404.98,472.59 L405.81,472.56 L406.65,472.53 L407.48,472.50 L408.32,472.47 L409.15,472.45 L409.99,472.42 L410.82,472.40 L411.65,472.38 L412.49,472.37 L413.32,472.35 L414.16,472.34 L414.99,472.33 L415.83,472.32 L416.66,472.32 L417.50,472.32 L418.33,472.31 L419.17,472.32 L420.00,472.32 L420.84,472.33 L421.67,472.33 L422.51,472.34 L423.34,472.36 L424.18,472.37 L425.01,472.39 L425.85,472.41 L426.68,472.43 L427.52,472.45 L428.35,472.48 L429.18,472.51 L430.02,472.54 L430.85,472.57 L431.69,472.60 L432.52,472.64 L433.36,472.68 L434.19,472.72 L435.03,472.76 L435.86,472.81 L436.69,472.85 L437.53,472.90 L438.36,472.96 L439.20,473.01 L440.03,473.07 L440.86,473.12 L441.70,473.19 L442.53,473.25 L443.36,473.31 L444.20,473.38 L445.03,473.45 L445.86,473.52 L446.70,473.59 L447.53,473.67 L448.36,473.75 L449.19,473.83 L450.03,473.91 L450.86,474.00 L451.69,474.08 L452.52,474.17 L453.35,474.26 L454.18,474.35 L455.01,474.45 L455.85,474.55 L456.68,474.65 L457.51,474.75 L458.34,474.85 L459.17,474.96 L460.00,475.07 L460.83,475.18 L461.66,475.29 L462.48,475.40 L463.31,475.52 L464.14,475.64 L464.97,475.76 L465.80,475.88 L466.63,476.01 L467.45,476.14 L468.28,476.26 L469.11,476.40 L469.93,476.53 L470.76,476.67 L471.59,476.80 L472.41,476.94 L473.24,477.09 L474.06,477.23 L474.89,477.38 L475.71,477.53 L476.54,477.68 L477.36,477.83 L478.19,477.98 L479.01,478.14 L479.83,478.30 L480.65,478.46 L481.48,478.63 L482.30,478.79 L483.12,478.96 L483.94,479.13 L484.76,479.30 L485.58,479.47 L486.40,479.65 L487.22,479.83 L488.04,480.01 L488.86,480.19 L489.68,480.37 L490.50,480.56 L491.32,480.75 L492.13,480.94" stroke="#00BF7D" class="c"/>
<path d="M116.12,325.22 L116.25,324.37 L116.38,323.52 L116.51,322.68 L116.65,321.83 L116.78,320.98 L116.92,320.13 L117.06,319.28 L117.20,318.43 L117.34,317.58 L117.48,316.73 L117.63,315.88 L117.77,315.03 L117.92,314.18 L118.07,313.33 L118.21,312.48 L118.37,311.63 L118.52,310.78 L118.67,309.92 L118.83,309.07 L118.98,308.22 L119.14,307.37 L119.30,306.51 L119.46,305.66 L119.62,304.81 L119.79,303.95 L119.95,303.10 L120.12,302.25 L120.29,301.39 L120.46,300.54 L120.63,299.69 L120.80,298.83 L120.97,297.98 L121.15,297.12 L121.33,296.27 L121.51,295.41 L121.69,294.56 L121.87,293.70 L122.05,292.85 L122.24,291.99 L122.42,291.14 L122.61,290.29 L122.80,289.43 L122.99,288.58 L123.18,287.72 L123.38,286.87 L123.57,286.01 L123.77,285.16 L123.97,284.30 L124.17,283.45 L124.37,282.59 L124.58,281.74 L124.78,280.89 L124.99,280.03 L125.20,279.18 L125.41,278.32 L125.62,277.47 L125.83,276.62 L126.05,275.76 L126.27,274.91 L126.49,274.06 L126.71,273.21 L126.93,272.35 L127.15,271.50 L127.38,270.65 L127.61,269.80 L127.84,268.95 L128.07,268.09 L128.30,267.24 L128.53,266.39 L128.77,265.54 L129.01,264.69 L129.25,263.84 L129.49,262.99 L129.73,262.14 L129.98,261.30 L130.22,260.45 L130.47,259.60 L130.72,258.75 L130.98,257.91 L131.23,257.06 L131.49,256.21 L131.74,255.37 L132.00,254.52 L132.27,253.68 L132.53,252.83 L132.79,251.99 L133.06,251.14 L133.33,250.30 L133.60,249.46 L133.87,248.61 L134.15,247.77 L134.43,246.93 L134.70,246.09 L134.99,245.25 L135.27,244.41 L135.55,243.57 L135.84,242.73 L136.13,241.90 L136.42,241.06 L136.71,240.22 L137.00,239.39 L137.30,238.55 L137.60,237.72 L137.90,236.88 L138.20,236.05 L138.50,235.22 L138.81,234.38 L139.12,233.55 L139.43,232.72 L139.74,231.89 L140.05,231.06 L140.37,230.23 L140.69,229.41 L141.01,228.58 L141.33,227.75 L141.66,226.93 L141.98,226.10 L142.31,225.28 L142.64,224.45 L142.98,223.63 L143.31,222.81 L143.65,221.99 L143.99,221.17 L144.33,220.35 L144.67,219.53 L145.02,218.72 L145.37,217.90 L145.72,217.08 L146.07,216.27 L146.42,215.46 L146.78,214.64 L147.14,213.83 L147.50,213.02 L147.86,212.21 L148.23,211.40 L148.59,210.59 L148.96,209.79 L149.33,208.98 L149.71,208.18 L150.08,207.37 L150.46,206.57 L150.84,205.77 L151.23,204.97 L151.61,204.17 L152.00,203.37 L152.39,202.57 L152.78,201.77 L153.18,200.98 L153.57,200.18 L153.97,199.39 L154.37,198.60 L154.78,197.81 L155.18,197.02 L155.59,196.23 L156.00,195.44 L156.41,194.66 L156.83,193.87 L157.25,193.09 L157.67,192.30 L158.09,191.52 L158.51,190.74 L158.94,189.96 L159.37,189.19 L159.80,188.41 L160.24,187.64 L160.67,186.86 L161.11,186.09 L161.55,185.32 L162.00,184.55 L162.44,183.78 L162.89,183.01 L163.34,182.25 L163.80,181.48 L164.25,180.72 L164.71,179.96 L165.17,179.20 L165.63,178.44 L166.10,177.68 L166.57,176.92 L167.04,176.17 L167.51,175.42 L167.98,174.67 L168.46,173.92 L168.94,173.17 L169.42,172.42 L169.91,171.67 L170.39,170.93 L170.88,170.19 L171.37,169.45 L171.86,168.71 L172.36,167.97 L172.86,167.23 L173.36,166.50 L173.86,165.77 L174.36,165.04 L174.87,164.31 L175.38,163.58 L175.89,162.85 L176.41,162.13 L176.92,161.41 L177.44,160.69 L177.96,159.97 L178.48,159.25 L179.01,158.53 L179.54,157.82 L180.06,157.11 L180.60,156.40 L181.13,155.69 L181.67,154.98 L182.21,154.28 L182.75,153.57 L183.29,152.87 L183.83,152.17 L184.38,151.47 L184.93,150.78 L185.48,150.08 L186.04,149.39 L186.59,148.70 L187.15,148.01 L187.71,147.33 L188.27,146.64 L188.84,145.96 L189.41,145.28 L189.97,144.60 L190.55,143.93 L191.12,143.25 L191.70,142.58 L192.27,141.91 L192.85,141.24 L193.44,140.58 L194.02,139.91 L194.61,139.25 L195.19,138.59 L195.79,137.94 L196.38,137.28 L196.97,136.63 L197.57,135.98 L198.17,135.33 L198.77,134.68 L199.37,134.04 L199.98,133.39 L200.59,132.75 L201.20,132.12 L201.81,131.48 L202.42,130.85 L203.04,130.22 L203.66,129.59 L204.28,128.96 L204.90,128.34 L205.52,127.71 L206.15,127.10 L206.78,126.48 L207.41,125.86 L208.04,125.25 L208.67,124.64 L209.31,124.03 L209.95,123.43 L210.59,122.82 L211.23,122.22 L211.88,121.63 L212.52,121.03 L213.17,120.44 L213.82,119.85 L214.48,119.26 L215.13,118.67 L215.79,118.09 L216.45,117.51 L217.11,116.93 L217.77,116.36 L218.44,115.78 L219.10,115.21 L219.77,114.65 L220.44,114.08 L221.11,113.52 L221.79,112.96 L222.47,112.40 L223.14,111.85 L223.82,111.29 L224.51,110.74 L225.19,110.20 L225.88,109.65 L226.57,109.11 L227.26,108.57 L227.95,108.04 L228.64,107.51 L229.34,106.97 L230.04,106.45 L230.74,105.92 L231.44,105.40 L232.14,104.88 L232.85,104.37 L233.55,103.85 L234.26,103.34 L234.97,102.83 L235.69,102.33 L236.40,101.83 L237.12,101.33 L237.84,100.83 L238.56,100.34 L239.28,99.85 L240.01,99.36 L240.73,98.88 L241.46,98.39 L242.19,97.92 L242.92,97.44 L243.65,96.97 L244.39,96.50 L245.13,96.03 L245.87,95.57 L246.61,95.11 L247.35,94.65 L248.09,94.20 L248.84,93.74 L249.59,93.30 L250.34,92.85 L251.09,92.41 L251.84,91.97 L252.60,91.54 L253.36,91.10 L254.12,90.67 L254.88,90.25 L255.64,89.82 L256.40,89.40 L257.17,88.99 L257.93,88.57 L258.70,88.16 L259.47,87.75 L260.25,87.35 L261.02,86.95 L261.80,86.55 L262.57,86.15 L263.35,85.76 L264.13,85.37 L264.91,84.98 L265.70,84.60 L266.48,84.22 L267.27,83.84 L268.06,83.47 L268.85,83.10 L269.64,82.73 L270.43,82.36 L271.23,82.00 L272.02,81.64 L272.82,81.28 L273.62,80.93 L274.42,80.58 L275.22,80.23 L276.02,79.89 L276.83,79.55 L277.63,79.21 L278.44,78.87 L279.25,78.54 L280.06,78.21 L280.87,77.89 L281.68,77.56 L282.49,77.24 L283.31,76.93 L284.13,76.61 L284.94,76.30 L285.76,75.99 L286.58,75.69 L287.40,75.39 L288.23,75.09 L289.05,74.79 L289.88,74.50 L290.70,74.21 L291.53,73.92 L292.36,73.64 L293.19,73.36 L294.02,73.08 L294.85,72.80 L295.69,72.53 L296.52,72.26 L297.36,71.99 L298.19,71.73 L299.03,71.47 L299.87,71.21 L300.71,70.96 L301.55,70.71 L302.39,70.46 L303.24,70.21 L304.08,69.97 L304.93,69.73 L305.77,69.49 L306.62,69.26 L307.47,69.03 L308.32,68.80 L309.17,68.57 L310.02,68.35 L310.87,68.13 L311.72,67.92 L312.58,67.70 L313.43,67.49 L314.29,67.28 L315.15,67.08 L316.00,66.88 L316.86,66.68 L317.72,66.48 L318.58,66.29 L319.44,66.10 L320.30,65.91 L321.17,65.73 L322.03,65.54 L322.89,65.37 L323.76,65.19 L324.62,65.02 L325.49,64.85 L326.36,64.68 L327.23,64.51 L328.09,64.35 L328.96,64.19 L329.83,64.04 L330.70,63.89 L331.58,63.74 L332.45,63.59 L333.32,63.44 L334.19,63.30 L335.07,63.16 L335.94,63.03 L336.82,62.90 L337.69,62.77 L338.57,62.64 L339.44,62.51 L340.32,62.39 L341.20,62.27 L342.08,62.16 L342.96,62.04 L343.84,61.93 L344.72,61.83 L345.60,61.72 L346.48,61.62 L347.36,61.52 L348.24,61.43 L349.12,61.33 L350.00,61.24 L350.89,61.15 L351.77,61.07 L352.65,60.99 L353.54,60.91 L354.42,60.83 L355.31,60.76 L356.19,60.69 L357.08,60.62 L357.96,60.55 L358.85,60.49 L359.74,60.43 L360.62,60.38 L361.51,60.32 L362.40,60.27 L363.29,60.22 L364.17,60.18 L365.06,60.13 L365.95,60.09 L366.84,60.06 L367.73,60.02 L368.62,59.99 L369.50,59.96 L370.39,59.93 L371.28,59.91 L372.17,59.89 L373.06,59.87 L373.95,59.86 L374.84,59.84 L375.73,59.83 L376.62,59.83 L377.51,59.82 L378.40,59.82 L379.29,59.82 L380.18,59.83 L381.07,59.83 L381.96,59.84 L382.85,59.85 L383.74,59.87 L384.63,59.89 L385.52,59.91 L386.41,59.93 L387.30,59.96 L388.19,59.98 L389.08,60.01 L389.97,60.05 L390.86,60.09 L391.75,60.12 L392.64,60.17 L393.53,60.21 L394.42,60.26 L395.31,60.31 L396.20,60.36 L397.09,60.42 L397.97,60.47 L398.86,60.54 L399.75,60.60 L400.64,60.66 L401.53,60.73 L402.41,60.81 L403.30,60.88 L404.19,60.96 L405.07,61.04 L405.96,61.12 L406.84,61.20 L407.73,61.29 L408.62,61.38 L409.50,61.47 L410.38,61.57 L411.27,61.67 L412.15,61.77 L413.04,61.87 L413.92,61.98 L414.80,62.09 L415.68,62.20 L416.56,62.31 L417.45,62.43 L418.33,62.55 L419.21,62.67 L420.09,62.79 L420.97,62.92 L421.84,63.05 L422.72,63.18 L423.60,63.32 L424.48,63.46 L425.35,63.60 L426.23,63.74 L427.11,63.88 L427.98,64.03 L428.86,64.18 L429.73,64.34 L430.60,64.49 L431.48,64.65 L432.35,64.81 L433.22,64.98 L434.09,65.14 L434.96,65.31 L435.83,65.48 L436.70,65.66 L437.56,65.83 L438.43,66.01 L439.30,66.19 L440.16,66.38 L441.03,66.57 L441.89,66.76 L442.76,66.95 L443.62,67.14 L444.48,67.34 L445.34,67.54 L446.20,67.74 L447.06,67.95 L447.92,68.15 L448.78,68.36 L449.63,68.58 L450.49,68.79 L451.34,69.01 L452.20,69.23 L453.05,69.45 L453.90,69.68 L454.75,69.90 L455.60,70.14 L456.45,70.37 L457.30,70.60 L458.15,70.84 L458.99,71.08 L459.84,71.32 L460.68,71.57 L461.53,71.82 L462.37,72.07 L463.21,72.32 L464.05,72.58 L464.89,72.84 L465.73,73.10 L466.56,73.36 L467.40,73.62 L468.23,73.89 L469.07,74.16 L469.90,74.44 L470.73,74.71 L471.56,74.99 L472.39,75.27 L473.22,75.55 L474.04,75.84 L474.87,76.13 L475.69,76.42 L476.52,76.71 L477.34,77.01 L478.16,77.30 L478.98,77.60 L479.79,77.91 L480.61,78.21 L481.43,78.52 L482.24,78.83 L483.05,79.14 L483.86,79.46 L484.67,79.77 L485.48,80.09 L486.29,80.42 L487.09,80.74 L487.90,81.07 L488.70,81.40 L489.50,81.73 L490.30,82.07 L491.10,82.40 L491.90,82.74" stroke="#00B0F6" class="c"/>
<path d="M115.15,154.48 L115.22,155.58 L115.30,156.68 L115.37,157.78 L115.45,158.88 L115.52,159.98 L115.59,161.08 L115.67,162.18 L115.75,163.28 L115.82,164.38 L115.90,165.48 L115.97,166.58 L116.05,167.67 L116.12,168.77 L116.20,169.87 L116.28,170.97 L116.35,172.07 L116.43,173.17 L116.51,174.26 L116.58,175.36 L116.66,176.46 L116.74,177.56 L116.82,178.65 L116.90,179.75 L116.97,180.85 L117.05,181.95 L117.13,183.04 L117.21,184.14 L117.29,185.24 L117.37,186.33 L117.45,187.43 L117.52,188.53 L117.60,189.62 L117.68,190.72 L117.76,191.82 L117.84,192.91 L117.92,194.01 L118.00,195.10 L118.08,196.20 L118.16,197.30 L118.25,198.39 L118.33,199.49 L118.41,200.58 L118.49,201.68 L118.57,202.78 L118.65,203.87 L118.73,204.97 L118.82,206.06 L118.90,207.16 L118.98,208.25 L119.06,209.35 L119.14,210.44 L119.23,211.54 L119.31,212.63 L119.39,213.73 L119.48,214.82 L119.56,215.92 L119.64,217.01 L119.73,218.11 L119.81,219.20 L119.90,220.30 L119.98,221.39 L120.06,222.49 L120.15,223.58 L120.23,224.68 L120.32,225.77 L120.40,226.87 L120.49,227.96 L120.57,229.06 L120.66,230.15 L120.75,231.25 L120.83,232.34 L120.92,233.43 L121.00,234.53 L121.09,235.62 L121.18,236.72 L121.26,237.81 L121.35,238.91 L121.44,240.00 L121.52,241.10 L121.61,242.19 L121.70,243.28 L121.79,244.38 L121.88,245.47 L121.96,246.57 L122.05,247.66 L122.14,248.75 L122.23,249.85 L122.32,250.94 L122.41,252.04 L122.49,253.13 L122.58,254.23 L122.67,255.32 L122.76,256.41 L122.85,257.51 L122.94,258.60 L123.03,259.70 L123.12,260.79 L123.21,261.89 L123.30,262.98 L123.39,264.07 L123.48,265.17 L123.57,266.26 L123.67,267.36 L123.76,268.45 L123.85,269.55 L123.94,270.64 L124.03,271.73 L124.12,272.83 L124.21,273.92 L124.31,275.02 L124.40,276.11 L124.49,277.21 L124.58,278.30 L124.68,279.40 L124.77,280.49 L124.86,281.59 L124.96,282.68 L125.05,283.78 L125.14,284.87 L125.24,285.97 L125.33,287.06 L125.42,288.16 L125.52,289.25 L125.61,290.35 L125.71,291.44 L125.80,292.54 L125.90,293.63 L125.99,294.73 L126.09,295.82 L126.18,296.92 L126.28,298.01 L126.37,299.11 L126.47,300.20 L126.56,301.30 L126.66,302.39 L126.76,303.49 L126.85,304.59 L126.95,305.68 L127.04,306.78 L127.14,307.87 L127.24,308.97 L127.34,310.07 L127.43,311.16 L127.53,312.26 L127.63,313.36 L127.72,314.45 L127.82,315.55 L127.92,316.65 L128.02,317.74 L128.12,318.84 L128.22,319.94 L128.31,321.03 L128.41,322.13 L128.51,323.23 L128.61,324.32 L128.71,325.42 L128.81,326.52 L128.91,327.62 L129.01,328.71 L129.11,329.81 L129.21,330.91 L129.31,332.01 L129.41,333.10 L129.51,334.20 L129.61,335.30 L129.71,336.40 L129.82,337.49 L129.92,338.59 L130.02,339.69 L130.13,340.79 L130.23,341.88 L130.34,342.98 L130.44,344.08 L130.55,345.17 L130.66,346.27 L130.76,347.37 L130.87,348.46 L130.98,349.56 L131.09,350.66 L131.20,351.75 L131.31,352.85 L131.42,353.94 L131.54,355.04 L131.65,356.13 L131.76,357.23 L131.88,358.32 L132.00,359.42 L132.11,360.51 L132.23,361.60 L132.35,362.70 L132.47,363.79 L132.59,364.88 L132.71,365.98 L132.84,367.07 L132.96,368.16 L133.09,369.25 L133.21,370.34 L133.34,371.43 L133.47,372.52 L133.60,373.61 L133.73,374.70 L133.86,375.79 L134.00,376.88 L134.13,377.97 L134.27,379.05 L134.41,380.14 L134.54,381.23 L134.69,382.31 L134.83,383.40 L134.97,384.48 L135.12,385.57 L135.26,386.65 L135.41,387.73 L135.56,388.82 L135.71,389.90 L135.86,390.98 L136.02,392.06 L136.17,393.14 L136.33,394.22 L136.49,395.30 L136.65,396.38 L136.81,397.45 L136.98,398.53 L137.14,399.61 L137.31,400.68 L137.48,401.76 L137.65,402.83 L137.82,403.91 L138.00,404.98 L138.18,406.05 L138.35,407.12 L138.54,408.19 L138.72,409.26 L138.91,410.33 L139.10,411.40 L139.29,412.47 L139.48,413.54 L139.68,414.61 L139.89,415.67 L140.10,416.74 L140.31,417.81 L140.53,418.88 L140.75,419.95 L140.98,421.02 L141.21,422.09 L141.45,423.16 L141.69,424.24 L141.94,425.31 L142.20,426.38 L142.46,427.46 L142.74,428.54 L143.02,429.62 L143.30,430.70 L143.60,431.78 L143.90,432.86 L144.21,433.94 L144.53,435.03 L144.85,436.12 L145.19,437.21 L145.54,438.30 L145.89,439.40 L146.26,440.49 L146.63,441.59 L147.02,442.69 L147.42,443.79 L147.83,444.88 L148.26,445.97 L148.70,447.04 L149.15,448.11 L149.63,449.15 L150.12,450.18 L150.64,451.18 L151.17,452.16 L151.73,453.11 L152.31,454.04 L152.91,454.93 L153.54,455.78 L154.19,456.60 L154.88,457.37 L155.59,458.10 L156.33,458.78 L157.10,459.42 L157.91,460.00 L158.74,460.53 L159.61,461.00 L160.51,461.41 L161.44,461.77 L162.38,462.08 L163.36,462.33 L164.35,462.53 L165.35,462.67 L166.37,462.77 L167.41,462.81 L168.45,462.81 L169.49,462.75 L170.54,462.65 L171.60,462.50 L172.65,462.31 L173.70,462.09 L174.74,461.83 L175.78,461.54 L176.81,461.22 L177.84,460.87 L178.86,460.50 L179.87,460.11 L180.88,459.69 L181.89,459.26 L182.90,458.81 L183.90,458.34 L184.90,457.87 L185.90,457.38 L186.90,456.89 L187.89,456.39 L188.89,455.89 L189.89,455.39 L190.89,454.88 L191.89,454.39 L192.89,453.89 L193.89,453.40 L194.89,452.91 L195.90,452.43 L196.91,451.95 L197.91,451.47 L198.92,451.00 L199.93,450.53 L200.95,450.06 L201.96,449.60 L202.97,449.14 L203.99,448.69 L205.01,448.24 L206.03,447.79 L207.05,447.35 L208.07,446.91 L209.09,446.47 L210.12,446.04 L211.14,445.61 L212.17,445.19 L213.19,444.77 L214.22,444.35 L215.25,443.94 L216.28,443.53 L217.32,443.12 L218.35,442.72 L219.38,442.32 L220.42,441.93 L221.46,441.54 L222.49,441.15 L223.53,440.77 L224.57,440.39 L225.62,440.01 L226.66,439.64 L227.70,439.27 L228.75,438.91 L229.79,438.55 L230.84,438.19 L231.89,437.84 L232.93,437.49 L233.98,437.15 L235.03,436.81 L236.09,436.47 L237.14,436.14 L238.19,435.81 L239.25,435.48 L240.30,435.16 L241.36,434.84 L242.41,434.53 L243.47,434.22 L244.53,433.92 L245.59,433.61 L246.65,433.32 L247.71,433.02 L248.78,432.73 L249.84,432.45 L250.90,432.16 L251.97,431.89 L253.03,431.61 L254.10,431.34 L255.17,431.08 L256.23,430.82 L257.30,430.56 L258.37,430.30 L259.44,430.05 L260.51,429.81 L261.58,429.57 L262.66,429.33 L263.73,429.09 L264.80,428.86 L265.88,428.64 L266.95,428.42 L268.03,428.20 L269.10,427.99 L270.18,427.78 L271.26,427.57 L272.34,427.37 L273.41,427.17 L274.49,426.98 L275.57,426.79 L276.65,426.60 L277.73,426.42 L278.81,426.25 L279.90,426.07 L280.98,425.91 L282.06,425.74 L283.14,425.58 L284.23,425.42 L285.31,425.27 L286.40,425.12 L287.48,424.98 L288.57,424.84 L289.65,424.71 L290.74,424.57 L291.83,424.45 L292.91,424.32 L294.00,424.21 L295.09,424.09 L296.18,423.98 L297.26,423.87 L298.35,423.77 L299.44,423.67 L300.53,423.58 L301.62,423.49 L302.71,423.41 L303.80,423.33 L304.89,423.25 L305.98,423.18 L307.07,423.11 L308.16,423.05 L309.25,422.99 L310.35,422.93 L311.44,422.88 L312.53,422.83 L313.62,422.79 L314.71,422.75 L315.81,422.71 L316.90,422.68 L317.99,422.66 L319.08,422.63 L320.18,422.62 L321.27,422.60 L322.36,422.59 L323.46,422.58 L324.55,422.58 L325.64,422.58 L326.74,422.59 L327.83,422.59 L328.92,422.61 L330.02,422.62 L331.11,422.64 L332.21,422.67 L333.30,422.70 L334.39,422.73 L335.49,422.76 L336.58,422.80 L337.68,422.84 L338.77,422.89 L339.86,422.94 L340.96,423.00 L342.05,423.05 L343.15,423.11 L344.24,423.18 L345.33,423.25 L346.43,423.32 L347.52,423.40 L348.61,423.48 L349.71,423.56 L350.80,423.65 L351.89,423.74 L352.99,423.83 L354.08,423.93 L355.17,424.03 L356.27,424.13 L357.36,424.24 L358.45,424.35 L359.54,424.46 L360.63,424.58 L361.73,424.70 L362.82,424.82 L363.91,424.95 L365.00,425.08 L366.09,425.22 L367.18,425.35 L368.27,425.49 L369.36,425.64 L370.45,425.79 L371.54,425.94 L372.63,426.09 L373.72,426.25 L374.81,426.41 L375.90,426.57 L376.99,426.73 L378.07,426.90 L379.16,427.08 L380.25,427.25 L381.34,427.43 L382.42,427.61 L383.51,427.80 L384.59,427.98 L385.68,428.17 L386.77,428.37 L387.85,428.56 L388.93,428.76 L390.02,428.97 L391.10,429.17 L392.18,429.38 L393.27,429.59 L394.35,429.80 L395.43,430.02 L396.51,430.24 L397.59,430.46 L398.67,430.69 L399.75,430.91 L400.83,431.14 L401.91,431.38 L402.99,431.61 L404.07,431.85 L405.14,432.09 L406.22,432.34 L407.30,432.58 L408.37,432.83 L409.45,433.09 L410.52,433.34 L411.60,433.60 L412.67,433.86 L413.74,434.12 L414.81,434.38 L415.89,434.65 L416.96,434.92 L418.03,435.19 L419.10,435.47 L420.17,435.75 L421.23,436.02 L422.30,436.31 L423.37,436.59 L424.43,436.88 L425.50,437.17 L426.56,437.46 L427.63,437.75 L428.69,438.05 L429.75,438.35 L430.82,438.65 L431.88,438.95 L432.94,439.26 L434.00,439.56 L435.06,439.87 L436.12,440.18 L437.17,440.50 L438.23,440.81 L439.28,441.13 L440.34,441.45 L441.39,441.77 L442.45,442.10 L443.50,442.43 L444.55,442.75 L445.60,443.09 L446.65,443.42 L447.70,443.75 L448.75,444.09 L449.80,444.43 L450.84,444.77 L451.89,445.11 L452.93,445.46 L453.98,445.80 L455.02,446.15 L456.06,446.50 L457.10,446.85 L458.14,447.21 L459.18,447.56 L460.22,447.92 L461.26,448.28 L462.29,448.64 L463.33,449.00 L464.36,449.37 L465.39,449.73 L466.43,450.10 L467.46,450.47 L468.49,450.84 L469.52,451.21 L470.54,451.59 L471.57,451.96 L472.60,452.34 L473.62,452.72 L474.64,453.10 L475.67,453.48 L476.69,453.87 L477.71,454.25 L478.73,454.64 L479.74,455.03 L480.76,455.42 L481.78,455.81 L482.79,456.20 L483.80,456.60 L484.82,456.99 L485.83,457.39 L486.84,457.79 L487.84,458.19 L488.85,458.59 L489.86,458.99 L490.86,459.39 L491.87,459.80" stroke="#E76BF3" class="c"/>
<line x1="96.50" y1="34.00" x2="96.50" y2="598.10" stroke="#000" stroke-width="1.3"/>
<line x1="95.90" y1="597.50" x2="511.60" y2="597.50" stroke="#000" stroke-width="1.3"/>
<line x1="96.50" y1="594.04" x2="101.50" y2="594.04" class="t"/>
<line x1="96.50" y1="577.60" x2="109.50" y2="577.60" class="t"/>
<line x1="96.50" y1="469.42" x2="101.50" y2="469.42" class="t"/>
<line x1="96.50" y1="406.15" x2="101.50" y2="406.15" class="t"/>
<line x1="96.50" y1="361.25" x2="101.50" y2="361.25" class="t"/>
<line x1="96.50" y1="326.43" x2="105.00" y2="326.43" class="t"/>
<line x1="96.50" y1="297.97" x2="101.50" y2="297.97" class="t"/>
<line x1="96.50" y1="273.91" x2="101.50" y2="273.91" class="t"/>
<line x1="96.50" y1="253.07" x2="101.50" y2="253.07" class="t"/>
<line x1="96.50" y1="234.69" x2="101.50" y2="234.69" class="t"/>
<line x1="96.50" y1="218.25" x2="109.50" y2="218.25" class="t"/>
<line x1="96.50" y1="110.07" x2="101.50" y2="110.07" class="t"/>
<line x1="96.50" y1="46.80" x2="101.50" y2="46.80" class="t"/>
<text x="115.50" y="621.5" class="ax" text-anchor="middle">0</text>
<text x="191.40" y="621.5" class="ax" text-anchor="middle">10</text>
<text x="266.20" y="621.5" class="ax" text-anchor="middle">20</text>
<text x="341.60" y="621.5" class="ax" text-anchor="middle">30</text>
<text x="417.60" y="621.5" class="ax" text-anchor="middle">40</text>
<text x="493.30" y="621.5" class="ax" text-anchor="middle">50</text>
<text x="86" y="584.90" class="ax" text-anchor="end">1</text>
<text x="86" y="413.45" class="ax" text-anchor="end">3</text>
<text x="86" y="225.55" class="ax" text-anchor="end">10</text>
<text x="86" y="54.10" class="ax" text-anchor="end">30</text>
<text transform="translate(0.34,20.9) scale(0.9302,1)" style="font-size:27px;font-weight:bold" fill="#000">HIV</text>
<text transform="translate(49.25,20.9) scale(0.9451,1)" style="font-size:27px;font-weight:bold" fill="#000">dynamics</text>
<text transform="translate(172.93,20.9) scale(0.9836,1)" style="font-size:27px;font-weight:bold" fill="#000">under</text>
<text transform="translate(253.04,20.9) scale(0.9559,1)" style="font-size:27px;font-weight:bold" fill="#000">optimal</text>
<text transform="translate(350.93,20.9) scale(0.9697,1)" style="font-size:27px;font-weight:bold" fill="#000">control</text>
<text transform="translate(447.78,20.9) scale(0.9200,1)" style="font-size:27px;font-weight:bold" fill="#000">(u1</text>
<text transform="translate(492.92,20.9) scale(0.9889,1)" style="font-size:27px;font-weight:bold" fill="#000">,u2</text>
<text transform="translate(538.22,20.9) scale(0.9778,1)" style="font-size:27px;font-weight:bold" fill="#000">&amp;</text>
<text transform="translate(563.90,20.9) scale(1.0000,1)" style="font-size:27px;font-weight:bold" fill="#000">u3)</text>
<text x="305.1" y="645.6" style="font-size:21.1px" text-anchor="middle" fill="#000">Time (months)</text>
<text transform="translate(60.3,316.5) rotate(-90)" style="font-size:21.5px" text-anchor="middle" fill="#000">Number of infected individuals</text>
<text x="543" y="255.5" style="font-size:21.6px" fill="#000">Infected group</text>
<line x1="544.8" y1="280.50" x2="564.8" y2="280.50" stroke="#F8766D" stroke-width="2.9"/>
<text x="578" y="287.60" class="lt">AIDS (A)</text>
<line x1="544.8" y1="306.10" x2="564.8" y2="306.10" stroke="#A3A500" stroke-width="2.9"/>
<text x="578" y="313.20" class="lt">Diagnosed (Ib)</text>
<line x1="544.8" y1="331.70" x2="564.8" y2="331.70" stroke="#00BF7D" stroke-width="2.9"/>
<text x="578" y="338.80" class="lt">Resistant (R)</text>
<line x1="544.8" y1="357.30" x2="564.8" y2="357.30" stroke="#00B0F6" stroke-width="2.9"/>
<text x="578" y="364.40" class="lt">Treated (T)</text>
<line x1="544.8" y1="382.90" x2="564.8" y2="382.90" stroke="#E76BF3" stroke-width="2.9"/>
<text x="578" y="390.00" class="lt">Unaware (Ia)</text>
</svg>
</body></html>
